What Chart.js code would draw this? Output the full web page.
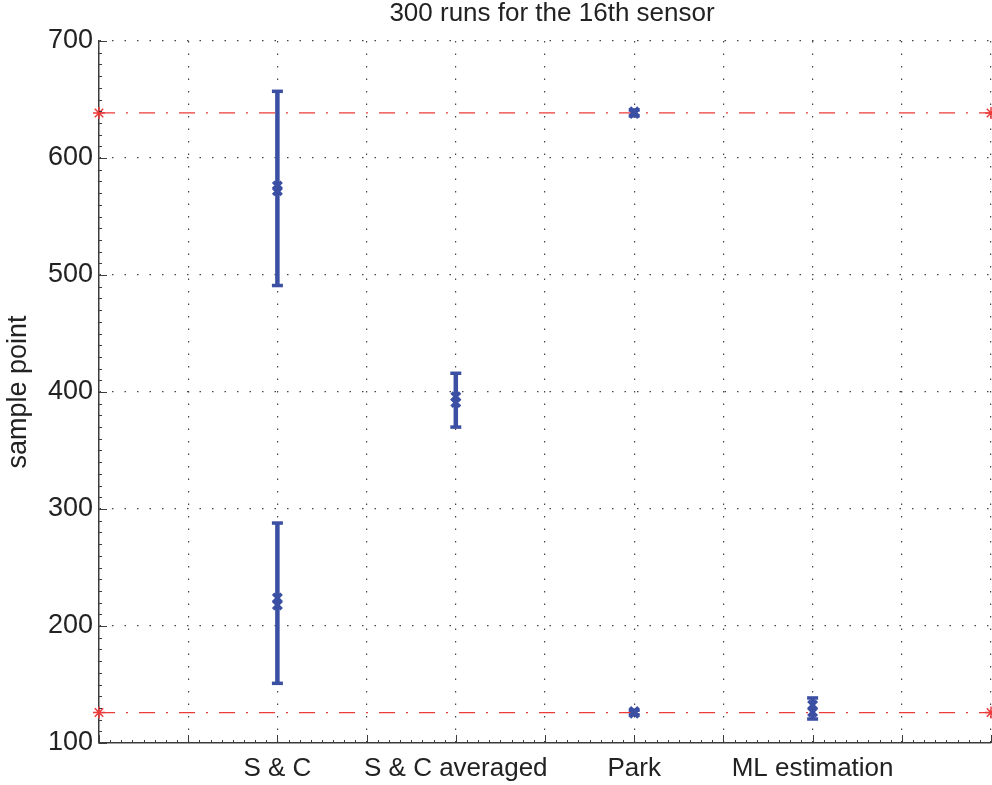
<!DOCTYPE html>
<html>
<head>
<meta charset="utf-8">
<script src="https://cdn.jsdelivr.net/npm/chart.js@4.4.1/dist/chart.umd.min.js"></script>
<style>
    html, body { margin: 0; padding: 0; background: #fff; }
    #wrap { width: 992px; height: 785px; }
</style>
</head>
<body>
<div id="wrap"><canvas id="chart" width="992" height="785"></canvas></div>
<script>
// method names on the x axis (placed at x = 1..4)
const categories = ['S & C', 'S & C averaged', 'Park', 'ML estimation'];

// one error bar per cluster of estimates
const barX    = [1, 1, 2, 3, 3, 4];
const barLow  = [491, 151, 370, 636, 124, 120.5];
const barHigh = [657, 288, 416, 641, 128, 138.5];

// two centre markers per bar (mean / median)
const meanValues   = [572, 218, 391, 638, 125.5, 126.5];
const medianValues = [576, 224, 396, 639.5, 127, 132.5];

// true sample points
const truthValues = [638.5, 126];

const yTicks = [100, 200, 300, 400, 500, 600, 700];

const TITLE = '300 runs for the 16th sensor';
const BLUE = '#3b4fa3';
const RED = '#ec3b3b';
const AXIS = '#3c3c3c';
const FONT = "'Liberation Sans', Arial, sans-serif";

const datasets = [];

// dash-dot reference lines for the true values
truthValues.forEach(v => {
    datasets.push({
        type: 'line',
        data: [{ x: 0, y: v }, { x: 5, y: v }],
        borderColor: RED,
        borderWidth: 1.3,
        borderDash: [16, 11, 2, 11],
        pointStyle: 'star',
        pointRadius: 6,
        pointBorderWidth: 1.5,
        pointBorderColor: RED,
        pointBackgroundColor: RED,
        clip: false,
        order: 2
    });
});

// vertical error bars with horizontal caps
barX.forEach((x, i) => {
    datasets.push({
        type: 'line',
        data: [{ x: x, y: barLow[i] }, { x: x, y: barHigh[i] }],
        borderColor: BLUE,
        borderWidth: 4.5,
        pointStyle: 'line',
        pointRadius: 5.5,
        pointBorderWidth: 3.5,
        pointBorderColor: BLUE,
        order: 1
    });
});

// centre markers
datasets.push({
    type: 'scatter',
    data: barX.map((x, i) => ({ x: x, y: meanValues[i] }))
        .concat(barX.map((x, i) => ({ x: x, y: medianValues[i] }))),
    pointStyle: 'crossRot',
    pointRadius: 6,
    pointBorderWidth: 3.5,
    pointBorderColor: BLUE,
    order: 0
});

// inward major and minor tick marks, plus the title over the plot
const axesDecor = {
    id: 'axesDecor',
    afterDraw(chart) {
        const ctx = chart.ctx;
        const xs = chart.scales.x;
        const ys = chart.scales.y;
        const area = chart.chartArea;
        ctx.save();
        ctx.strokeStyle = AXIS;
        ctx.lineWidth = 1;
        for (let k = 0; k <= 80; k++) {
            const px = Math.round(xs.getPixelForValue(k * 0.0625)) + 0.5;
            const len = (k % 8 === 0) ? 8 : 3;
            ctx.beginPath();
            ctx.moveTo(px, area.bottom);
            ctx.lineTo(px, area.bottom - len);
            ctx.stroke();
        }
        for (let v = 100; v <= 700; v += 10) {
            const py = Math.round(ys.getPixelForValue(v)) + 0.5;
            const len = (v % 100 === 0) ? 8 : 3;
            ctx.beginPath();
            ctx.moveTo(area.left, py);
            ctx.lineTo(area.left + len, py);
            ctx.stroke();
        }
        ctx.fillStyle = '#222';
        ctx.font = '26px ' + FONT;
        ctx.textAlign = 'center';
        ctx.textBaseline = 'middle';
        ctx.fillText(TITLE, (area.left + area.right) / 2 + 7, 14);
        ctx.restore();
    }
};

new Chart(document.getElementById('chart'), {
    type: 'scatter',
    data: { datasets: datasets },
    options: {
        responsive: false,
        animation: false,
        layout: { autoPadding: false, padding: { right: 1, top: 41, left: 0, bottom: 0 } },
        plugins: {
            legend: { display: false },
            tooltip: { enabled: false },
            title: { display: false }
        },
        scales: {
            x: {
                type: 'linear',
                min: 0,
                max: 5,
                afterBuildTicks: axis => {
                    axis.ticks = [];
                    for (let k = 0; k <= 10; k++) axis.ticks.push({ value: k * 0.5 });
                },
                afterFit: axis => {
                    axis.height = 42;
                    axis.paddingLeft = 0;
                    axis.paddingRight = 0;
                },
                ticks: {
                    autoSkip: false,
                    maxRotation: 0,
                    color: '#222',
                    padding: 10,
                    font: { family: FONT, size: 26 },
                    callback: v => Number.isInteger(v) && v >= 1 && v <= 4 ? categories[v - 1] : ''
                },
                grid: {
                    color: ctx => (ctx.tick && ctx.tick.value === 0) ? 'rgba(0,0,0,0)' : '#444',
                    lineWidth: 1.2,
                    drawTicks: false
                },
                border: { display: true, color: AXIS, width: 1.5, dash: [1.5, 11] }
            },
            y: {
                type: 'linear',
                min: 100,
                max: 700,
                afterBuildTicks: axis => { axis.ticks = yTicks.map(v => ({ value: v })); },
                afterFit: axis => { axis.width = 99; },
                ticks: {
                    color: '#222',
                    padding: 6,
                    font: { family: FONT, size: 27 }
                },
                grid: {
                    color: ctx => (ctx.tick && ctx.tick.value === 100) ? 'rgba(0,0,0,0)' : '#444',
                    lineWidth: 1.2,
                    drawTicks: false
                },
                border: { display: true, color: AXIS, width: 1.5, dash: [1.5, 11] },
                title: {
                    display: true,
                    text: 'sample point',
                    color: '#222',
                    font: { family: FONT, size: 27 },
                    padding: { top: 2, bottom: 0 }
                }
            }
        }
    },
    plugins: [axesDecor]
});
</script>
</body>
</html>
